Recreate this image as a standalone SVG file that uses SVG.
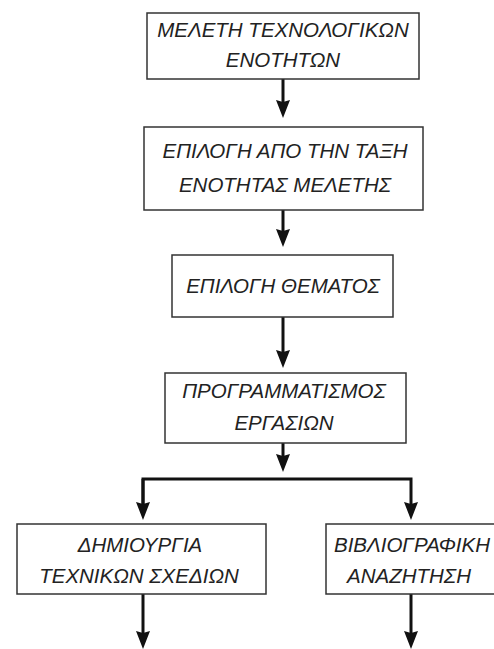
<svg xmlns="http://www.w3.org/2000/svg" width="494" height="649" viewBox="0 0 494 649">
<style>
.box{fill:#fff;stroke:#333;stroke-width:1.5}
.t{font-family:"Liberation Sans","DejaVu Sans",sans-serif;font-style:italic;font-size:20.5px;fill:#222;text-anchor:middle}
.c{fill:none;stroke:#111;stroke-width:3}
</style>
<defs>
<marker id="ah" markerUnits="userSpaceOnUse" markerWidth="18" markerHeight="14" viewBox="0 0 18 14" refX="8" refY="7" orient="auto">
<path d="M0,0 L18,7 L0,14 L2,7 Z" fill="#111"/>
</marker>
</defs>
<rect width="494" height="649" fill="#fff"/>
<g id="connectors">
<line class="c" x1="283" y1="79" x2="283" y2="108" marker-end="url(#ah)"/>
<line class="c" x1="283" y1="210" x2="283" y2="237" marker-end="url(#ah)"/>
<line class="c" x1="283" y1="317" x2="283" y2="358" marker-end="url(#ah)"/>
<line class="c" x1="283" y1="443" x2="283" y2="462" marker-end="url(#ah)"/>
<polyline class="c" points="143,510 143,479 411,479 411,510" marker-end="url(#ah)"/>
<line class="c" x1="143" y1="479" x2="143" y2="510" marker-end="url(#ah)"/>
<line class="c" x1="143" y1="594" x2="143" y2="639" marker-end="url(#ah)"/>
<line class="c" x1="411" y1="594" x2="411" y2="639" marker-end="url(#ah)"/>
</g>
<g id="n1">
<rect class="box" x="147" y="13" width="272" height="66"/>
<text class="t" x="283" y="37">ΜΕΛΕΤΗ ΤΕΧΝΟΛΟΓΙΚΩΝ</text>
<text class="t" x="283" y="67">ΕΝΟΤΗΤΩΝ</text>
</g>
<g id="n2">
<rect class="box" x="144" y="127" width="279" height="83"/>
<text class="t" x="285" y="158">ΕΠΙΛΟΓΗ ΑΠΟ ΤΗΝ ΤΑΞΗ</text>
<text class="t" x="285" y="192">ΕΝΟΤΗΤΑΣ ΜΕΛΕΤΗΣ</text>
</g>
<g id="n3">
<rect class="box" x="172" y="255" width="221" height="62"/>
<text class="t" x="283" y="293">ΕΠΙΛΟΓΗ ΘΕΜΑΤΟΣ</text>
</g>
<g id="n4">
<rect class="box" x="165" y="373" width="241" height="70"/>
<text class="t" x="284" y="398">ΠΡΟΓΡΑΜΜΑΤΙΣΜΟΣ</text>
<text class="t" x="284" y="430">ΕΡΓΑΣΙΩΝ</text>
</g>
<g id="n5">
<rect class="box" x="17" y="524" width="249" height="70"/>
<text class="t" x="140" y="552">ΔΗΜΙΟΥΡΓΙΑ</text>
<text class="t" x="139" y="583">ΤΕΧΝΙΚΩΝ ΣΧΕΔΙΩΝ</text>
</g>
<g id="n6">
<rect class="box" x="326" y="524" width="175" height="70"/>
<text class="t" x="412" y="552">ΒΙΒΛΙΟΓΡΑΦΙΚΗ</text>
<text class="t" x="409" y="583">ΑΝΑΖΗΤΗΣΗ</text>
</g>
</svg>
